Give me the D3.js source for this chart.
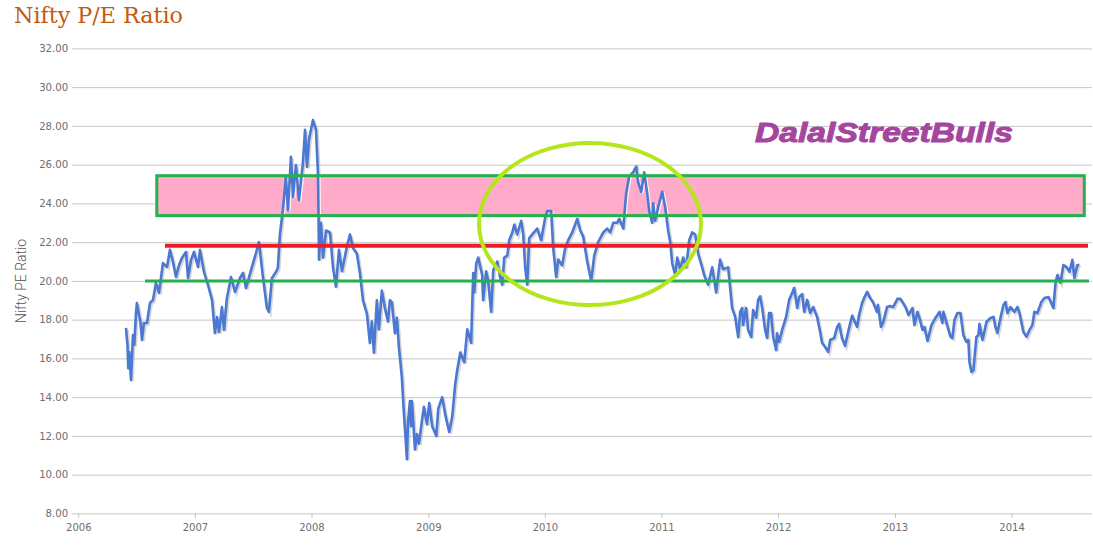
<!DOCTYPE html>
<html>
<head>
<meta charset="utf-8">
<title>Nifty P/E Ratio</title>
<script src="https://cdn.jsdelivr.net/npm/d3@7"></script>
<style>
body { margin: 0; background: #fff; }
svg { display: block; }
.tick text { font-family: "DejaVu Sans", sans-serif; fill: #6e6e6e; }
</style>
</head>
<body>
<div id="chart"></div>
<script>
// y axis ticks and year ticks
var peTicks = [8, 10, 12, 14, 16, 18, 20, 22, 24, 26, 28, 30, 32];
var yearTicks = [2006, 2007, 2008, 2009, 2010, 2011, 2012, 2013, 2014];

// P/E readings: fraction of the year + value, one pair of lists per year
var frac2006 = [.409,.422,.429,.437,.452,.469,.480,.495,.503,.521,.533,.546,.563,.589,.615,.641,.666,.692,.709,.726,.761,.786,.812,.838,.864,.889,.924,.941,.967,.992];
var pe2006 = [17.57,16.69,15.5,16.33,14.89,17.21,16.69,18.34,18.86,18.24,17.88,16.95,17.83,17.83,18.86,19.02,19.9,19.38,20.15,20.92,20.72,21.6,20.98,20.2,20.82,21.18,21.49,20.15,21.08,21.49];

var frac2007 = [.027,.044,.078,.112,.147,.172,.190,.207,.232,.250,.275,.310,.344,.387,.413,.438,.490,.524,.550,.584,.618,.635,.661,.695,.712,.729,.755,.781,.799,.824,.842,.867,.893,.927,.945,.962,.979];
var pe2007 = [20.72,21.6,20.46,19.8,19.02,17.31,18.14,17.36,18.65,17.47,19.12,20.2,19.43,20.15,20.41,19.63,20.72,21.44,22,20.2,18.6,18.4,20.15,20.46,20.67,22.37,23.66,25.36,23.66,26.4,24.33,25.98,24.17,26.1,27.8,25.88,27.3];

var frac2008 = [.013,.039,.057,.065,.082,.099,.125,.159,.185,.210,.236,.262,.305,.331,.356,.390,.416,.442,.476,.501,.518,.536,.561,.578,.604,.630,.656,.673,.690,.716,.733,.750,.776,.785,.793,.819,.828,.845,.854,.862,.888,.905,.922,.948,.965,.991];
var pe2008 = [28.3,27.8,25.4,21.1,23,21.2,22.6,22.5,20.7,19.7,21.6,20.5,21.8,22.4,21.7,21.4,20.4,19,18.3,16.8,17.9,16.3,19,17.5,19.5,18.6,17.9,19,18.9,17.3,18.1,16.6,15,14,13.2,10.8,12.7,13.8,12.5,13.8,11.3,12.1,11.6,12.8,13.5,12.6];

var frac2009 = [.008,.033,.068,.085,.119,.145,.179,.205,.231,.248,.274,.308,.334,.367,.385,.394,.411,.428,.462,.470,.496,.513,.539,.557,.591,.617,.634,.651,.677,.694,.720,.737,.762,.797,.814,.831,.848,.865,.891,.934,.968];
var pe2009 = [13.7,12.5,12,13.4,14,13.1,12.2,13,14.7,15.4,16.3,15.8,17.5,16.8,20.4,19.4,20.9,21.2,20.3,19,20.5,20,18.4,20.56,21,20.15,19.8,21.2,21.3,22.1,22.5,22.9,22.4,23.1,22.4,20.7,19.8,22.2,22.4,22.7,22.1];

var frac2010 = [.003,.020,.054,.071,.097,.114,.148,.174,.200,.234,.277,.303,.328,.363,.397,.423,.457,.474,.500,.534,.560,.586,.620,.637,.672,.697,.723,.757,.783,.800,.826,.852,.878,.895,.920,.929,.946,.972];
var pe2010 = [23.3,23.6,23.6,21.7,20.2,21.1,20.8,21.7,22.1,22.5,23.2,22.6,22.3,21,20,21.3,22,22.2,22.5,22.7,22.5,23,23,23.2,22.7,24.5,25.4,25.6,25.9,25.1,24.6,25.6,24.5,23.6,23,24,23.1,23.8];

var frac2011 = [.006,.032,.057,.075,.092,.118,.135,.160,.186,.212,.238,.263,.289,.315,.349,.366,.400,.435,.469,.503,.529,.572,.606,.632,.649,.658,.675,.692,.700,.726,.743,.769,.786,.812,.829,.846,.863,.889,.906,.923,.940,.958,.983,.992];
var pe2011 = [24.6,23.8,22.6,22,20.9,20.3,21.2,20.6,21.2,20.7,22.1,22.5,22.4,21.4,20.7,20.3,19.8,20.7,19.4,21.1,20.6,20.7,18.6,18.14,17.47,17.1,18.4,18.6,17.72,18.6,17.47,17.1,18.5,18.1,19.02,19.2,18.65,17.47,17.05,18.34,18.34,17.1,16.43,17.3];

var frac2012 = [.009,.035,.069,.095,.121,.138,.164,.181,.207,.224,.250,.275,.301,.335,.361,.378,.404,.430,.447,.481,.507,.524,.548,.575,.601,.635,.678,.695,.721,.738,.763,.789,.814,.849,.857,.883,.900,.935,.961,.987];
var pe2012 = [16.85,17.47,18.14,19.02,19.38,19.63,18.6,19.17,19.32,18.4,19.02,18.34,18.65,18.14,17.36,16.8,16.59,16.33,16.95,17.05,17.62,17.78,17.05,16.64,17.36,18.2,17.62,18.25,18.86,19.12,19.43,19.12,18.91,18.4,18.76,17.62,17.83,18.65,18.7,18.65];

var frac2013 = [.021,.047,.090,.116,.150,.167,.193,.210,.236,.253,.279,.313,.347,.382,.407,.416,.442,.476,.493,.510,.536,.562,.587,.613,.630,.639,.656,.673,.699,.716,.725,.751,.785,.819,.845,.862,.879,.905,.931,.948,.965,.991];
var pe2013 = [19.07,19.07,18.65,18.24,18.6,17.72,18.4,18.09,17.47,17.62,16.9,17.72,18.09,18.4,17.83,18.4,17.83,17.12,17.05,17.98,18.34,18.34,17.2,16.85,16.95,15.82,15.3,15.4,17.12,17.2,17.78,16.95,17.88,18.09,18.14,17.62,17.31,18.09,18.76,18.91,18.34,18.65];

var frac2014 = [.025,.051,.068,.102,.128,.154,.179,.196,.222,.256,.282,.317,.359,.377,.394,.420,.445,.471,.497,.522,.539,.565,.582];
var pe2014 = [18.4,18.65,18.34,17.36,17.12,17.47,17.72,18.4,18.34,18.91,19.12,19.17,18.6,19.9,20.3,19.9,20.82,20.72,20.47,21.09,20.15,20.82,20.82];

// levels marked by hand on the chart
var bandTop = 25.43, bandBottom = 23.37;
var redLevel = 21.82, greenLevel = 20;

var byYear = [
  [2006, frac2006, pe2006], [2007, frac2007, pe2007], [2008, frac2008, pe2008],
  [2009, frac2009, pe2009], [2010, frac2010, pe2010], [2011, frac2011, pe2011],
  [2012, frac2012, pe2012], [2013, frac2013, pe2013], [2014, frac2014, pe2014]
];
var dayMs = 86400000;
var points = [];
byYear.forEach(function (row) {
  row[1].forEach(function (f, i) {
    points.push({ date: new Date(Date.UTC(row[0], 0, 1) + f * 365 * dayMs), pe: row[2][i] });
  });
});

var width = 1093, height = 557;
var svg = d3.select("#chart").append("svg").attr("width", width).attr("height", height);

var x = d3.scaleUtc()
  .domain([new Date(Date.UTC(2006, 0, 1)), new Date(Date.UTC(2014, 8, 10))])
  .range([78.3, 1092]);
var y = d3.scaleLinear().domain([8, 32]).range([513.4, 48.4]);

// grid lines double as y axis ticks
var yAxis = d3.axisLeft(y).tickValues(peTicks).tickFormat(d3.format(".2f"))
  .tickSizeInner(-(1092 - 78.3)).tickPadding(10);
var gy = svg.append("g").attr("transform", "translate(78.3,0)").call(yAxis);
gy.select(".domain").remove();
gy.selectAll(".tick line").attr("x1", -6.3).attr("stroke", "#c6c6c6");
gy.selectAll(".tick text").attr("x", -10).attr("font-size", 10.2);

var xAxis = d3.axisBottom(x)
  .tickValues(yearTicks.map(function (d) { return new Date(Date.UTC(d, 0, 1)); }))
  .tickFormat(d3.utcFormat("%Y")).tickSize(5).tickPadding(6);
var gx = svg.append("g").attr("transform", "translate(0,513.4)").call(xAxis);
gx.select(".domain").remove();
gx.selectAll(".tick line").attr("stroke", "#c6c6c6");
gx.selectAll(".tick text").attr("font-size", 10);

var line = d3.line().x(function (d) { return x(d.date); }).y(function (d) { return y(d.pe); });

// soft line shadow
svg.append("path").datum(points).attr("d", line)
  .attr("transform", "translate(1.5,1.5)")
  .attr("fill", "none").attr("stroke", "#999").attr("stroke-opacity", 0.4).attr("stroke-width", 2.6);

// pink band
var bandX = 156.8, bandW = 1084.3 - 156.8;
svg.append("rect")
  .attr("x", bandX).attr("y", y(bandTop)).attr("width", bandW).attr("height", y(bandBottom) - y(bandTop))
  .attr("fill", "#ffabc9");
svg.append("line").attr("x1", bandX).attr("x2", bandX + bandW).attr("y1", y(24)).attr("y2", y(24))
  .attr("stroke", "#dcc2d0");

svg.append("clipPath").attr("id", "bandClip").append("rect")
  .attr("x", bandX).attr("y", y(bandTop)).attr("width", bandW).attr("height", y(bandBottom) - y(bandTop));
svg.append("path").datum(points).attr("d", line)
  .attr("transform", "translate(1.5,1)").attr("clip-path", "url(#bandClip)")
  .attr("fill", "none").attr("stroke", "#fff").attr("stroke-opacity", 0.85).attr("stroke-width", 2);

// the P/E line
svg.append("path").datum(points).attr("d", line)
  .attr("fill", "none").attr("stroke", "#4a78d2").attr("stroke-width", 2.6).attr("stroke-linejoin", "round");

// paint-on annotations
svg.append("rect")
  .attr("x", bandX).attr("y", y(bandTop)).attr("width", bandW).attr("height", y(bandBottom) - y(bandTop))
  .attr("fill", "none").attr("stroke", "#22b14c").attr("stroke-width", 3);
svg.append("line").attr("x1", 165).attr("x2", 1088).attr("y1", y(redLevel)).attr("y2", y(redLevel))
  .attr("stroke", "#ed1c24").attr("stroke-width", 4);
svg.append("line").attr("x1", 145).attr("x2", 1089).attr("y1", y(greenLevel)).attr("y2", y(greenLevel))
  .attr("stroke", "#22b14c").attr("stroke-width", 3);
svg.append("ellipse").attr("cx", 590).attr("cy", 224).attr("rx", 111).attr("ry", 81)
  .attr("fill", "none").attr("stroke", "#b5e61d").attr("stroke-width", 4);

svg.append("text").attr("x", 14).attr("y", 23).text("Nifty P/E Ratio")
  .attr("font-family", "'DejaVu Serif', serif").attr("font-size", 22)
  .attr("textLength", 169).attr("lengthAdjust", "spacingAndGlyphs").attr("fill", "#c55a11");

svg.append("text").attr("transform", "translate(26,281) rotate(-90)").attr("text-anchor", "middle")
  .text("Nifty PE Ratio")
  .attr("font-family", "Roboto, sans-serif").attr("font-weight", 300).attr("font-size", 14).attr("fill", "#555");

svg.append("text").attr("x", 755).attr("y", 142).text("DalalStreetBulls")
  .attr("font-family", "'Liberation Sans', sans-serif").attr("font-weight", "bold").attr("font-style", "italic")
  .attr("font-size", 28).attr("textLength", 258).attr("lengthAdjust", "spacingAndGlyphs")
  .attr("fill", "#a5459f").attr("stroke", "#a5459f").attr("stroke-width", 1);
</script>
</body>
</html>
